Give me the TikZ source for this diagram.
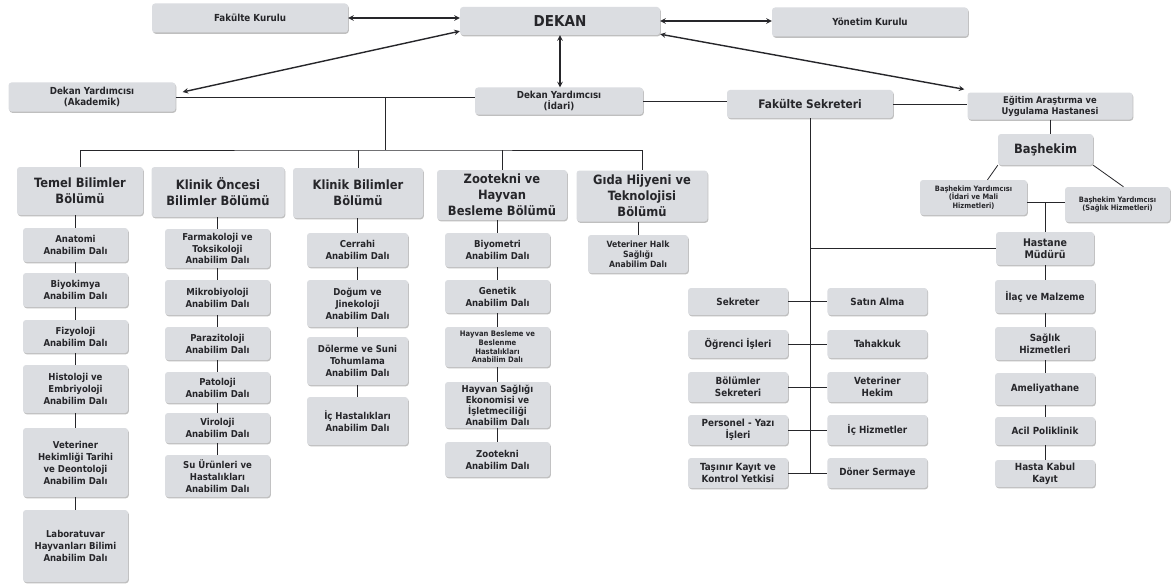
\documentclass[tikz,border=0pt]{standalone}
\usepackage{fontspec}
\setmainfont{DejaVu Sans Condensed}
\usepackage{tikz}
\usetikzlibrary{arrows,positioning,shadows}
\definecolor{kutugri}{RGB}{219,221,225}
\definecolor{yazigri}{RGB}{38,38,42}
\tikzset{%
  >=stealth,
  kutu/.style={rectangle,rounded corners=3pt,fill=kutugri,text=yazigri,
    align=center,inner sep=1pt,
    drop shadow={shadow xshift=0.8pt,shadow yshift=-1.3pt,fill=black!45,opacity=.55}},
  ust/.style={kutu,font=\bfseries\fontsize{9.7}{11.5}\selectfont},
  bolum/.style={kutu,font=\bfseries\fontsize{12.8}{16}\selectfont},
  dal/.style={kutu,minimum width=105pt,font=\bfseries\fontsize{9.5}{12}\selectfont},
  birim/.style={kutu,minimum width=100pt,font=\bfseries\fontsize{9.8}{12}\selectfont},
  hat/.style={draw=yazigri,line width=0.8pt},
  ok/.style={<->,draw=yazigri,line width=1.4pt}
}

\begin{document}
\begin{tikzpicture}[x=1pt,y=-1pt]
  \path[use as bounding box,fill=white] (0,0) rectangle (1173,586);

  % ust kademe
  \node[ust,minimum width=196pt,minimum height=29pt] (fkurul) at (250,18) {Fakülte Kurulu};
  \node[kutu,minimum width=200pt,minimum height=28pt,font=\bfseries\fontsize{15}{18}\selectfont] (dekan) at (560,21) {DEKAN};
  \node[ust,minimum width=196pt,minimum height=29pt] (ykurul) at (870,22) {Yönetim Kurulu};
  \node[ust,minimum width=167pt,minimum height=29pt] (dyakad) at (92,97) {Dekan Yardımcısı\\(Akademik)};
  \node[ust,minimum width=168pt,minimum height=27pt] (dyidari) at (559,101) {Dekan Yardımcısı\\(İdari)};
  \node[ust,minimum width=166pt,minimum height=28pt,font=\bfseries\fontsize{11.8}{14}\selectfont] (fsekr) at (810,104) {Fakülte Sekreteri};
  \node[ust,minimum width=165pt,minimum height=27pt,font=\bfseries\fontsize{9.3}{11}\selectfont] (egitim) at (1050,106) {Eğitim Araştırma ve\\Uygulama Hastanesi};

  % bolumler
  \node[bolum,minimum width=126pt,minimum height=48pt] (temel) at (80,191) {Temel Bilimler\\Bölümü};
  \node[bolum,minimum width=133pt,minimum height=50pt] (kob) at (218,192) {Klinik Öncesi\\Bilimler Bölümü};
  \node[bolum,minimum width=130pt,minimum height=50pt] (kb) at (358,193) {Klinik Bilimler\\Bölümü};
  \node[bolum,minimum width=130pt,minimum height=50pt] (zoo) at (502,195) {Zootekni ve\\Hayvan\\Besleme Bölümü};
  \node[bolum,minimum width=131pt,minimum height=51pt] (gida) at (642,196) {Gıda Hijyeni ve\\Teknolojisi\\Bölümü};

  % anabilim dallari
  \node[dal,minimum height=34pt] (t1) at (75.5,245) {Anatomi\\Anabilim Dalı};
  \node[dal,minimum height=34pt] (t2) at (75.5,290) {Biyokimya\\Anabilim Dalı};
  \node[dal,minimum height=33pt] (t3) at (75.5,336.5) {Fizyoloji\\Anabilim Dalı};
  \node[dal,minimum height=48pt] (t4) at (75.5,389) {Histoloji ve\\Embriyoloji\\Anabilim Dalı};
  \node[dal,minimum height=69pt] (t5) at (75.5,462.5) {Veteriner\\Hekimliği Tarihi\\ve Deontoloji\\Anabilim Dalı};
  \node[dal,minimum height=72pt] (t6) at (75.5,546) {Laboratuvar\\Hayvanları Bilimi\\Anabilim Dalı};

  \node[dal,minimum height=39pt,font=\bfseries\fontsize{9.5}{11.5}\selectfont] (k1) at (217.5,248.5) {Farmakoloji ve\\Toksikoloji\\Anabilim Dalı};
  \node[dal,minimum height=35pt] (k2) at (217.5,297.5) {Mikrobiyoloji\\Anabilim Dalı};
  \node[dal,minimum height=33pt] (k3) at (217.5,343.5) {Parazitoloji\\Anabilim Dalı};
  \node[dal,minimum height=31pt] (k4) at (217.5,387.5) {Patoloji\\Anabilim Dalı};
  \node[dal,minimum height=30pt] (k5) at (217.5,428) {Viroloji\\Anabilim Dalı};
  \node[dal,minimum height=42pt] (k6) at (217.5,476) {Su Ürünleri ve\\Hastalıkları\\Anabilim Dalı};

  \node[dal,minimum width=101pt,minimum height=34pt] (c1) at (357.5,250) {Cerrahi\\Anabilim Dalı};
  \node[dal,minimum width=101pt,minimum height=47pt] (c2) at (357.5,303.5) {Doğum ve\\Jinekoloji\\Anabilim Dalı};
  \node[dal,minimum width=101pt,minimum height=48pt] (c3) at (357.5,361) {Dölerme ve Suni\\Tohumlama\\Anabilim Dalı};
  \node[dal,minimum width=101pt,minimum height=48pt] (c4) at (357.5,421) {İç Hastalıkları\\Anabilim Dalı};

  \node[dal,minimum height=34pt] (z1) at (497.5,250) {Biyometri\\Anabilim Dalı};
  \node[dal,minimum height=33pt] (z2) at (497.5,296.5) {Genetik\\Anabilim Dalı};
  \node[dal,minimum height=40pt,font=\bfseries\fontsize{7.6}{8.6}\selectfont] (z3) at (497.5,347) {Hayvan Besleme ve\\Beslenme\\Hastalıkları\\Anabilim Dalı};
  \node[dal,minimum height=46pt,font=\bfseries\fontsize{9.5}{11}\selectfont] (z4) at (497.5,405) {Hayvan Sağlığı\\Ekonomisi ve\\İşletmeciliği\\Anabilim Dalı};
  \node[dal,minimum height=35pt] (z5) at (497.5,459.5) {Zootekni\\Anabilim Dalı};

  \node[dal,minimum width=100pt,minimum height=38pt,font=\bfseries\fontsize{8.6}{9.8}\selectfont] (g1) at (638,254) {Veteriner Halk\\Sağlığı\\Anabilim Dalı};

  % fakulte sekreterligi
  \node[birim,minimum height=27pt] (s1) at (738,301.5) {Sekreter};
  \node[birim,minimum height=28pt] (s2) at (738,344) {Öğrenci İşleri};
  \node[birim,minimum height=30pt] (s3) at (738,387) {Bölümler\\Sekreteri};
  \node[birim,minimum height=30pt] (s4) at (738,430) {Personel - Yazı\\İşleri};
  \node[birim,minimum height=30pt] (s5) at (738,473) {Taşınır Kayıt ve\\Kontrol Yetkisi};
  \node[birim,minimum height=27pt,right=39pt of s1] (r1) {Satın Alma};
  \node[birim,minimum height=28pt,right=39pt of s2] (r2) {Tahakkuk};
  \node[birim,minimum height=30pt,right=39pt of s3] (r3) {Veteriner\\Hekim};
  \node[birim,minimum height=30pt,right=39pt of s4] (r4) {İç Hizmetler};
  \node[birim,minimum height=30pt,right=39pt of s5] (r5) {Döner Sermaye};

  % hastane
  \node[kutu,minimum width=95pt,minimum height=31pt,font=\bfseries\fontsize{12.8}{15}\selectfont] (bashekim) at (1045.5,149.5) {Başhekim};
  \node[kutu,minimum width=107pt,minimum height=35pt,font=\bfseries\fontsize{7.4}{8.6}\selectfont] (byrd1) at (973.5,197.5) {Başhekim Yardımcısı\\(İdari ve Mali\\Hizmetleri)};
  \node[kutu,minimum width=105pt,minimum height=35pt,font=\bfseries\fontsize{7.4}{8.6}\selectfont] (byrd2) at (1117.5,204.5) {Başhekim Yardımcısı\\(Sağlık Hizmetleri)};
  \node[birim,minimum width=98pt,minimum height=33pt,font=\bfseries\fontsize{10.5}{12.5}\selectfont] (hmudur) at (1045,248.5) {Hastane\\Müdürü};
  \node[birim,minimum height=33pt] (h1) at (1045,296.5) {İlaç ve Malzeme};
  \node[birim,minimum height=33pt] (h2) at (1045,343.5) {Sağlık\\Hizmetleri};
  \node[birim,minimum height=32pt] (h3) at (1045,389) {Ameliyathane};
  \node[birim,minimum height=28pt] (h4) at (1045,431) {Acil Poliklinik};
  \node[birim,minimum height=27pt] (h5) at (1045,473.5) {Hasta Kabul\\Kayıt};

  % oklar
  \draw[ok] (fkurul.east) -- (fkurul.east -| dekan.west);
  \draw[ok] (dekan.east) -- (dekan.east -| ykurul.west);
  \draw[ok] ([yshift=4pt]dekan.south west) -- ([xshift=7pt,yshift=5pt]dyakad.east);
  \draw[ok] (dekan.south) -- (dekan.south |- dyidari.north);
  \draw[ok] ([yshift=1pt]dekan.south east) -- ([xshift=-3pt,yshift=3pt]egitim.north west);

  % baglantilar
  \draw[hat] (dyakad.east) -- (dyakad.east -| dyidari.west);
  \draw[hat] (dyidari.east) -- (dyidari.east -| fsekr.west);
  \draw[hat] (fsekr.east) -- (fsekr.east -| egitim.west);
  \coordinate (akkol) at (385,97);
  \coordinate (bus) at (385,150);
  \draw[hat] (akkol) -- (bus);
  \draw[hat] (temel.north) |- (bus) -| (gida.north);
  \foreach \b in {kb,zoo}
    \draw[hat] (\b.north) -- (\b.north |- bus);

  \draw[hat] (t1.north) -- (t1.north |- temel.south);
  \draw[hat] (t1) -- (t2) -- (t3) -- (t4) -- (t5) -- (t6);
  \draw[hat] (k1.north) -- (k1.north |- kob.south);
  \draw[hat] (k1) -- (k2) -- (k3) -- (k4) -- (k5) -- (k6);
  \draw[hat] (c1.north) -- (c1.north |- kb.south);
  \draw[hat] (c1) -- (c2) -- (c3) -- (c4);
  \draw[hat] (z1.north) -- (z1.north |- zoo.south);
  \draw[hat] (z1) -- (z2) -- (z3) -- (z4) -- (z5);
  \draw[hat] (g1.north) -- (g1.north |- gida.south);

  \draw[hat] (fsekr.south) -- (fsekr.south |- s5.east);
  \foreach \i in {1,...,5}
    \draw[hat] (s\i.east) -- (r\i.west);
  \draw[hat] (fsekr.south |- hmudur.west) -- (hmudur.west);

  \draw[hat] (egitim.south) -- (egitim.south |- bashekim.north);
  \draw[hat] (bashekim.south west) -- ([xshift=14pt]byrd1.north);
  \draw[hat] (bashekim.south east) -- ([xshift=6pt]byrd2.north);
  \coordinate (bj) at (1045,202);
  \draw[hat] (bj -| byrd1.east) -- (bj -| byrd2.west);
  \draw[hat] (bj) -- (hmudur.north);
  \draw[hat] (hmudur) -- (h1) -- (h2) -- (h3) -- (h4) -- (h5);
\end{tikzpicture}
\end{document}
